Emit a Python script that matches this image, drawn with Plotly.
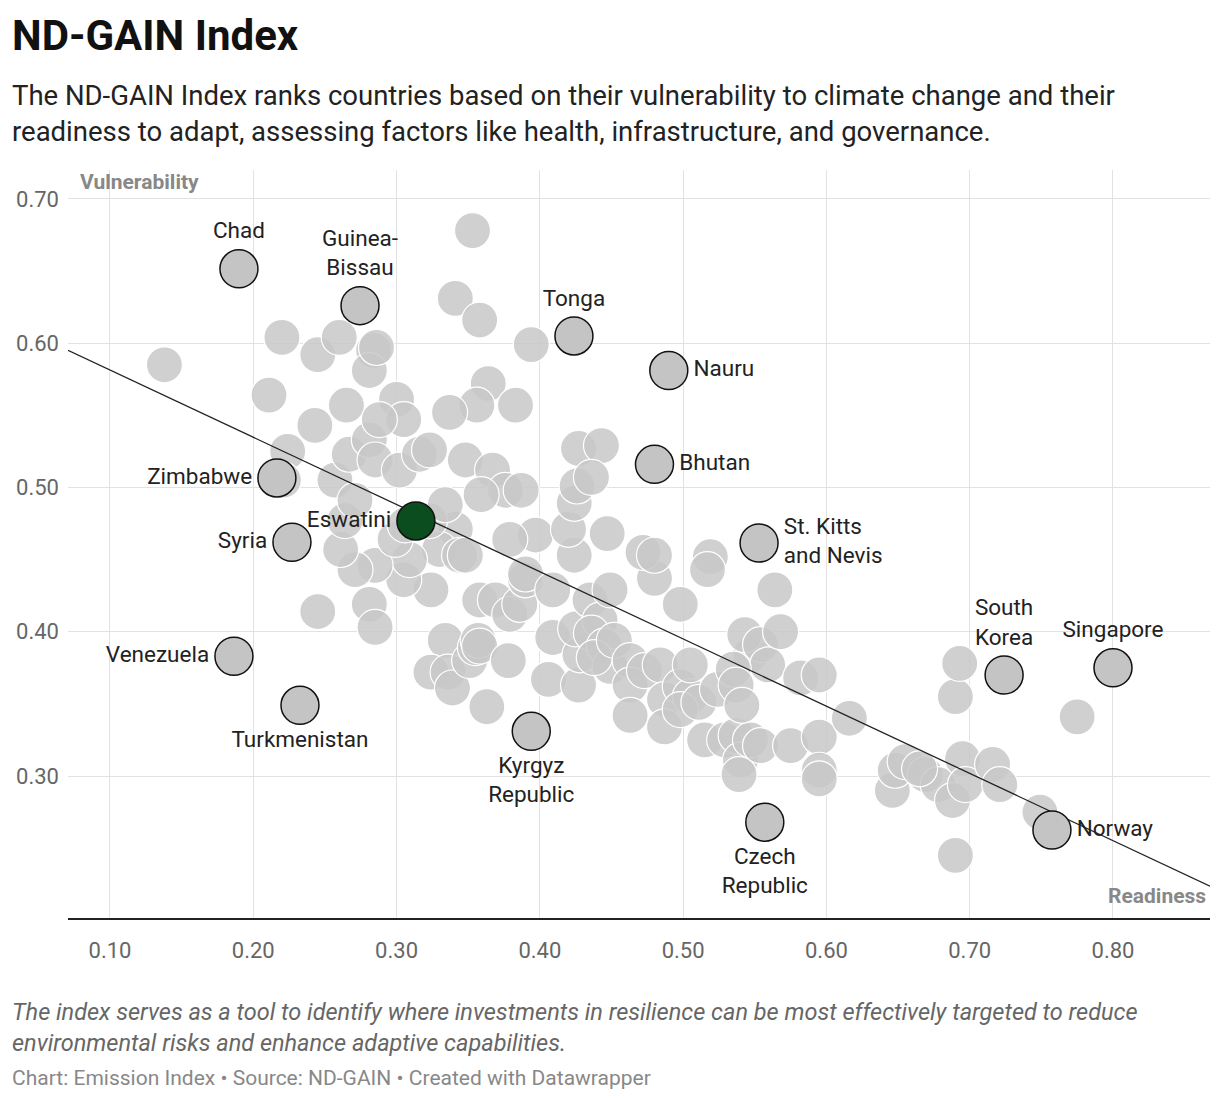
import plotly.graph_objects as go

bg_x = [0.138,0.220,0.211,0.245,0.260,0.284,0.281,0.286,0.265,0.243,0.224,0.221,0.257,0.267,0.281,0.300,0.305,0.288,0.285,0.302,0.316,0.323,
0.341,0.353,0.358,0.364,0.356,0.383,0.337,0.394,0.348,0.367,0.376,0.359,0.387,0.397,0.379,0.341,0.330,0.344,0.324,0.305,0.309,0.285,0.271,0.261,0.264,0.271,
0.281,0.285,0.245,0.299,0.306,0.323,0.334,0.348,0.334,0.324,0.336,0.339,0.351,0.355,0.358,0.369,0.379,0.386,0.357,0.358,0.378,0.363,0.390,0.390,0.409,0.409,
0.406,0.427,0.428,0.425,0.435,0.442,0.436,0.445,0.449,0.438,0.452,0.463,0.463,0.463,0.473,0.484,0.487,0.487,0.498,0.505,0.505,0.498,0.511,0.524,0.515,0.529,
0.537,0.540,0.539,0.547,0.554,0.547,0.543,0.554,0.559,0.535,0.537,0.541,0.575,0.582,0.595,0.595,0.595,0.595,0.616,0.564,0.568,0.519,0.517,0.498,0.480,0.472,
0.480,0.449,0.447,0.424,0.420,0.424,0.426,0.427,0.443,0.436,0.646,0.648,0.655,0.669,0.678,0.688,0.695,0.690,0.693,0.697,0.716,0.721,0.749,0.775,0.690,0.665]
bg_y = [0.585,0.604,0.564,0.592,0.604,0.595,0.581,0.597,0.557,0.543,0.525,0.505,0.505,0.523,0.533,0.561,0.547,0.547,0.519,0.512,0.523,0.526,
0.631,0.678,0.616,0.572,0.557,0.557,0.552,0.599,0.519,0.512,0.498,0.495,0.498,0.467,0.464,0.471,0.457,0.453,0.429,0.436,0.450,0.446,0.443,0.457,0.477,0.491,
0.419,0.403,0.414,0.464,0.474,0.477,0.488,0.453,0.394,0.372,0.372,0.361,0.380,0.389,0.422,0.422,0.412,0.419,0.394,0.390,0.380,0.348,0.436,0.440,0.429,0.396,
0.367,0.363,0.384,0.402,0.422,0.408,0.399,0.390,0.376,0.382,0.394,0.380,0.363,0.342,0.373,0.377,0.353,0.334,0.362,0.355,0.377,0.346,0.351,0.360,0.325,0.325,
0.328,0.311,0.301,0.325,0.321,0.384,0.398,0.391,0.377,0.374,0.363,0.349,0.321,0.368,0.370,0.327,0.304,0.298,0.340,0.429,0.400,0.452,0.443,0.419,0.437,0.455,
0.453,0.429,0.468,0.453,0.471,0.489,0.501,0.527,0.529,0.507,0.290,0.304,0.310,0.301,0.294,0.283,0.312,0.355,0.378,0.294,0.308,0.294,0.275,0.341,0.245,0.305]

lab_names = ["Chad","Guinea-<br>Bissau","Tonga","Nauru","Bhutan","St. Kitts<br>and Nevis","South<br>Korea","Singapore","Norway",
             "Czech<br>Republic","Kyrgyz<br>Republic","Turkmenistan","Venezuela","Syria","Zimbabwe"]
lab_x = [0.190,0.2745,0.4238,0.490,0.480,0.553,0.724,0.800,0.7574,0.557,0.394,0.2326,0.1865,0.227,0.2165]
lab_y = [0.6515,0.626,0.605,0.581,0.516,0.4615,0.370,0.375,0.2626,0.268,0.331,0.349,0.383,0.462,0.5066]
lab_pos = ["top center","top center","top center","middle right","middle right","middle right","top center","top center","middle right",
           "bottom center","bottom center","bottom center","middle left","middle left","middle left"]

hl_name = ["Eswatini"]; hl_x = [0.3135]; hl_y = [0.4768]

trend_x = [0.0707, 0.8677]
trend_y = [0.595, 0.2237]

fig = go.Figure()
fig.add_trace(go.Scatter(x=bg_x, y=bg_y, mode="markers",
    marker=dict(size=36, color="rgba(200,200,200,0.85)", line=dict(color="white", width=1.2)), hoverinfo="skip"))
fig.add_trace(go.Scatter(x=trend_x, y=trend_y, mode="lines", line=dict(color="#222", width=1.3), hoverinfo="skip"))
fig.add_trace(go.Scatter(x=lab_x, y=lab_y, mode="markers+text", text=lab_names, textposition=lab_pos,
    textfont=dict(size=22.5, color="#222", family="Roboto"),
    marker=dict(size=38, color="#c4c4c4", line=dict(color="#111", width=1.5))))
fig.add_trace(go.Scatter(x=hl_x, y=hl_y, mode="markers+text", text=hl_name, textposition="middle left",
    textfont=dict(size=22.5, color="#222", family="Roboto"),
    marker=dict(size=38, color="#0b4d1e", line=dict(color="#111", width=1.5))))

OFF = 8  # page offset
W, H = 1220, 1102
pl, pr, pt, pb = 68 - OFF, 1210 - OFF, 170 - OFF, 918 - OFF
fig.update_layout(
    width=W, height=H, showlegend=False, plot_bgcolor="white", paper_bgcolor="white",
    font=dict(family="Roboto", color="#222"),
    margin=dict(l=pl, r=W - pr, t=pt, b=H - pb),
    xaxis=dict(range=[0.0707,0.8677], tickvals=[0.1,0.2,0.3,0.4,0.5,0.6,0.7,0.8], tickformat=".2f", automargin=False,
               showgrid=True, gridcolor="#e2e2e2", zeroline=False, showline=True, linecolor="#222", linewidth=1.5,
               tickfont=dict(size=22, color="#666"), ticks="", ticklabelstandoff=12),
    yaxis=dict(range=[0.2016,0.72], tickvals=[0.3,0.4,0.5,0.6,0.7], tickformat=".2f", automargin=False,
               showgrid=True, gridcolor="#e2e2e2", zeroline=False, showline=False,
               tickfont=dict(size=22, color="#666"), ticks="", ticklabelstandoff=8),
)
items = [
    (10, 35, "<b>ND-GAIN Index</b>", 42, "#111"),
    (10, 113, "The ND-GAIN Index ranks countries based on their vulnerability to climate change and their<br>readiness to adapt, assessing factors like health, infrastructure, and governance.", 27.5, "#222"),
    (10, 1027, "<i>The index serves as a tool to identify where investments in resilience can be most effectively targeted to reduce<br>environmental risks and enhance adaptive capabilities.</i>", 23.5, "#666"),
    (10, 1078, "Chart: Emission Index • Source: ND-GAIN • Created with Datawrapper", 21, "#888"),
]
for x, y, t, s, c in items:
    x -= OFF; y -= OFF
    fig.add_annotation(text=t, x=(x - pl) / (pr - pl), y=(pb - y) / (pb - pt), xref="paper", yref="paper",
                       showarrow=False, xanchor="left", yanchor="middle", align="left",
                       font=dict(size=s, color=c, family="Roboto"))
fig.add_annotation(text="<b>Vulnerability</b>", x=0.0707, y=0.72, xref="x", yref="y", xshift=10, yshift=-12,
                   showarrow=False, xanchor="left", yanchor="middle", font=dict(size=21, color="#888"))
fig.add_annotation(text="<b>Readiness</b>", x=0.8677, y=0.2016, xref="x", yref="y", yshift=22, xshift=-2,
                   showarrow=False, xanchor="right", yanchor="middle", font=dict(size=21, color="#888"))
fig.write_html("out.html")
